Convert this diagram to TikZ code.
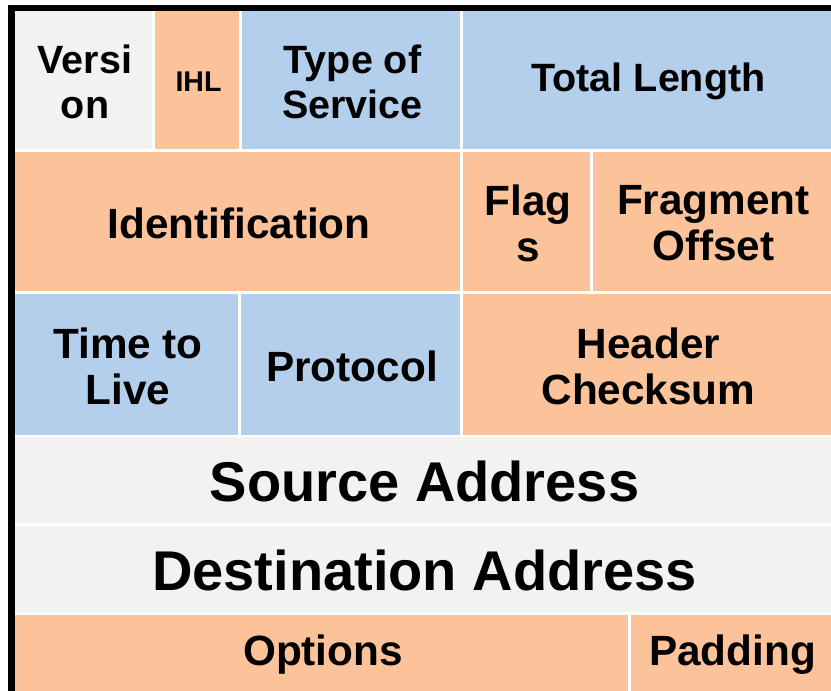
\documentclass[tikz,border=0pt]{standalone}
\usepackage{fontspec}
\setmainfont{Liberation Sans}
\definecolor{cgray}{HTML}{F2F2F2}
\definecolor{corange}{HTML}{FCC29A}
\definecolor{cblue}{HTML}{B4CFEC}
\tikzset{
  cellbox/.style={inner sep=0pt, outer sep=0pt, align=center, text=black},
  rowone/.style={font=\fontsize{39.5}{45}\selectfont\bfseries},
  rowmid/.style={font=\fontsize{42.3}{46}\selectfont\bfseries},
  rowbig/.style={font=\fontsize{56}{60}\selectfont\bfseries},
  rowsmall/.style={font=\fontsize{28.5}{32}\selectfont\bfseries},
  frame/.style={fill=black, draw=none}
}
\newcommand\fieldcell[8]{%
  \path[fill=#6] (#2,#3) rectangle (#4,#5);
  \node[cellbox, #7] (#1) at ({(#2+#4)/2+1.5},{(#3+#5)/2+1.5}) {#8};}
\begin{document}
\begin{tikzpicture}[x=1pt, y=-1pt]
\useasboundingbox[fill=white] (0,0) rectangle (831,691);
% black frame (left and top)
\path[frame] (8,5) rectangle (15,691);
\path[frame] (8,5) rectangle (831,11);
% row 1
\fieldcell{ver}{15}{11}{152}{149}{cgray}{rowone}{Versi\\on}
\fieldcell{ihl}{155}{11}{239}{149}{corange}{rowsmall}{IHL}
\fieldcell{tos}{242}{11}{460}{149}{cblue}{rowone}{Type of\\Service}
\fieldcell{tl}{463}{11}{831}{149}{cblue}{rowone}{Total Length}
% row 2
\fieldcell{ident}{15}{152}{460}{291}{corange}{rowmid}{Identification}
\fieldcell{flags}{463}{152}{590}{291}{corange}{rowmid}{Flag\\s}
\fieldcell{frag}{593}{152}{831}{291}{corange}{rowmid}{Fragment\\Offset}
% row 3
\fieldcell{ttl}{15}{294}{238}{435}{cblue}{rowmid}{Time to\\Live}
\fieldcell{proto}{241}{294}{460}{435}{cblue}{rowmid}{Protocol}
\fieldcell{hc}{463}{294}{831}{435}{corange}{rowmid}{Header\\Checksum}
% row 4, 5
\fieldcell{src}{15}{437}{831}{523}{cgray}{rowbig}{Source Address}
\fieldcell{dst}{15}{526}{831}{612}{cgray}{rowbig}{Destination Address}
% row 6
\fieldcell{opt}{15}{615}{628}{691}{corange}{rowmid}{Options}
\fieldcell{pad}{631}{615}{831}{691}{corange}{rowmid}{Padding}
\end{tikzpicture}
\end{document}
